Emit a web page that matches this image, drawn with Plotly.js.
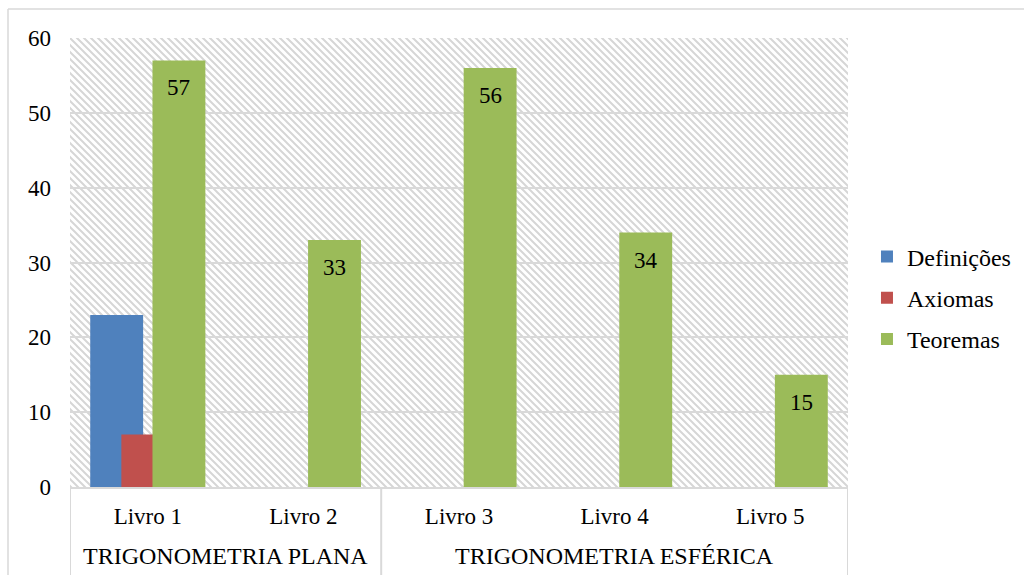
<!DOCTYPE html>
<html>
<head>
<meta charset="utf-8">
<script src="https://cdn.plot.ly/plotly-3.0.1.min.js"></script>
<style>
  html, body { margin: 0; padding: 0; background: #ffffff; }
  #chart { width: 1024px; height: 575px; }
</style>
</head>
<body>
<div id="chart"></div>
<script>
// ---- data ----
const groups = ["TRIGONOMETRIA PLANA", "TRIGONOMETRIA PLANA", "TRIGONOMETRIA ESFÉRICA", "TRIGONOMETRIA ESFÉRICA", "TRIGONOMETRIA ESFÉRICA"];
const books = ["Livro 1", "Livro 2", "Livro 3", "Livro 4", "Livro 5"];
const seriesNames = ["Definições", "Axiomas", "Teoremas"];
const definicoes = [23, null, null, null, null];
const axiomas = [7, null, null, null, null];
const teoremas = [57, 33, 56, 34, 15];
const yTicks = [0, 10, 20, 30, 40, 50, 60];

// ---- style ----
const FONT = "Liberation Serif";
const colors = ["#4f81bd", "#c0504d", "#9bbb59"];
const barWidth = 0.34;
const offsets = [-0.37, -0.17, 0.03];
const seriesValues = [definicoes, axiomas, teoremas];

const plotW = 778, plotH = 449;
const px2x = p => (p - 70) / plotW;
const py2y = p => (487 - p) / plotH;

const traces = seriesValues.map((vals, k) => ({
  type: "bar",
  name: seriesNames[k],
  x: books,
  y: vals,
  width: barWidth,
  offset: offsets[k],
  marker: { color: colors[k], line: { width: 0 } },
  legendgroup: "g" + k,
  hoverinfo: "y+name"
}));

// data labels for Teoremas (inside, near the top of each bar)
const annotations = teoremas.map((v, i) => ({
  x: i + offsets[2] + barWidth / 2,
  y: v,
  xref: "x", yref: "y",
  text: String(v),
  showarrow: false,
  yanchor: "top",
  yshift: -13,
  font: { family: FONT, size: 23, color: "#000000" }
}));

// group (outer category) labels and dividers, derived from the groups array
const groupSpans = [];
groups.forEach((g, i) => {
  const last = groupSpans[groupSpans.length - 1];
  if (last && last.name === g) last.end = i;
  else groupSpans.push({ name: g, start: i, end: i });
});
groupSpans.forEach(s => {
  annotations.push({
    x: (s.start + s.end) / 2, xref: "x",
    y: py2y(556), yref: "paper",
    text: s.name, showarrow: false,
    xanchor: "center", yanchor: "middle",
    font: { family: FONT, size: 24, color: "#000000" }
  });
});
const dividerPos = [groupSpans[0].start - 0.5].concat(groupSpans.map(s => s.end + 0.5));
const dividerShapes = dividerPos.map(p => ({
  type: "line", xref: "x", yref: "paper",
  x0: p, x1: p, y0: 0, y1: py2y(575),
  line: { color: "#d9d9d9", width: 2 }
}));

// hatch background for plot area
const hatchSvg =
  '<svg xmlns="http://www.w3.org/2000/svg" width="' + plotW + '" height="' + plotH + '" viewBox="0 0 ' + plotW + ' ' + plotH + '" preserveAspectRatio="none">' +
  '<defs><pattern id="h" width="7" height="7" patternUnits="userSpaceOnUse">' +
  '<path d="M-1,-1 L8,8 M-1,6 L1,8 M6,-1 L8,1" stroke="#d6d6d6" stroke-width="2"/>' +
  '</pattern></defs><rect width="100%" height="100%" fill="url(#h)"/></svg>';
const hatchUri = "data:image/svg+xml;charset=utf-8," + encodeURIComponent(hatchSvg);

const layout = {
  width: 1024,
  height: 575,
  margin: { l: 70, r: 176, t: 38, b: 88, pad: 0, autoexpand: false },
  paper_bgcolor: "#ffffff",
  plot_bgcolor: "rgba(0,0,0,0)",
  barmode: "overlay",
  font: { family: FONT, size: 23, color: "#000000" },
  showlegend: true,
  legend: {
    x: 1.0244, xanchor: "left",
    y: 0.421, yanchor: "middle",
    font: { family: FONT, size: 24, color: "#000000" },
    traceorder: "grouped",
    tracegroupgap: 7,
    bgcolor: "rgba(0,0,0,0)",
    itemwidth: 30
  },
  xaxis: {
    type: "category",
    range: [-0.5, 4.5],
    showline: true,
    linecolor: "#d9d9d9",
    linewidth: 2,
    showgrid: false,
    zeroline: false,
    ticks: "",
    ticklabelstandoff: 7,
    tickfont: { family: FONT, size: 23, color: "#000000" },
    fixedrange: true
  },
  yaxis: {
    range: [0, 60],
    tickvals: yTicks,
    showgrid: true,
    gridcolor: "#d9d9d9",
    gridwidth: 2,
    zeroline: false,
    showline: false,
    ticks: "",
    ticklabelstandoff: 18,
    tickfont: { family: FONT, size: 23, color: "#000000" },
    fixedrange: true
  },
  images: [{
    source: hatchUri,
    xref: "paper", yref: "paper",
    x: 0, y: 1, sizex: 1, sizey: 1,
    xanchor: "left", yanchor: "top",
    sizing: "stretch",
    layer: "below"
  }],
  shapes: [
    { type: "line", xref: "paper", yref: "paper", x0: px2x(8), x1: px2x(1030), y0: py2y(9), y1: py2y(9), line: { color: "#d9d9d9", width: 1.5 } },
    { type: "line", xref: "paper", yref: "paper", x0: px2x(8), x1: px2x(8), y0: py2y(9), y1: py2y(580), line: { color: "#d9d9d9", width: 1.5 } }
  ].concat(dividerShapes),
  annotations: annotations
};

Plotly.newPlot("chart", traces, layout, { displayModeBar: false, staticPlot: true }).then(gd => {
  const ready = (document.fonts && document.fonts.ready) ? document.fonts.ready : Promise.resolve();
  return ready.then(() => Plotly.redraw(gd));
});
</script>
</body>
</html>
